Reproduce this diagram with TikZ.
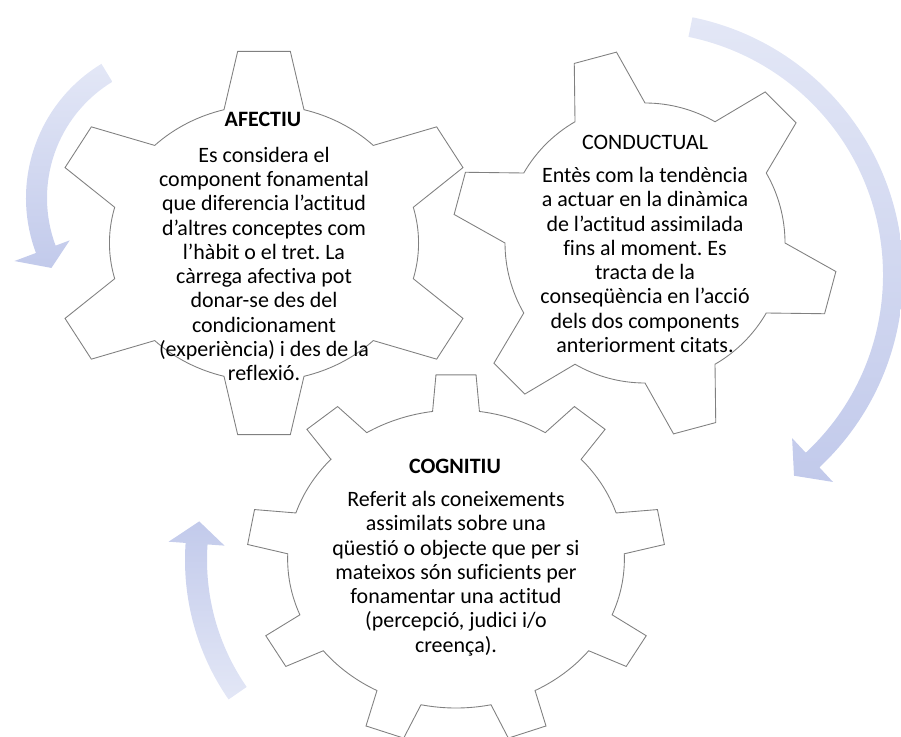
\documentclass[tikz,border=0pt]{standalone}
\usepackage{fontspec}
\setmainfont{Carlito}[Ligatures=NoCommon]
\usepackage{tikz}
\usetikzlibrary{calc}
\usepackage{xcolor}
\frenchspacing

\definecolor{arrowtail}{RGB}{227,231,246}
\definecolor{arrowhead}{RGB}{194,202,235}

\tikzset{
  gearline/.style={draw=black!50, fill=white, line width=0.5pt},
  geartitle/.style={font=\fontsize{12.5}{13.8}\selectfont, inner sep=0pt},
  geartext/.style={font=\fontsize{12.5}{13.8}\selectfont, align=center, inner sep=0pt},
}

\begin{document}
\begin{tikzpicture}[x=0.02cm, y=-0.02cm]
\useasboundingbox (0,0) rectangle (901,736);
\clip (0,0) rectangle (901,736);
% curved arrows round the gears
\coordinate (ca) at (183,198);
\coordinate (cb) at (640,275);
\coordinate (cc) at (430,560);
\shade [top color=arrowtail, bottom color=arrowhead, shift={(ca)}] (238.7:157) arc[start angle=238.7, end angle=159.5, radius=157] -- (159.5:180) -- (152:149) -- (159.5:121) -- (159.5:136) arc[start angle=159.5, end angle=238.7, radius=136] -- cycle;
\shade [top color=arrowtail, bottom color=arrowhead, shift={(cb)}] (-78.5:263) arc[start angle=-78.5, end angle=47, radius=263] -- (47:283) -- (52.5:253) -- (47:223) -- (47:243) arc[start angle=47, end angle=-78.5, radius=243] -- cycle;
\shade [top color=arrowhead, bottom color=arrowtail, shift={(cc)}] (145.3:245) arc[start angle=145.3, end angle=184, radius=245] -- (184:262) -- (189.5:234) -- (184:206) -- (184:223) arc[start angle=184, end angle=145.3, radius=223] -- cycle;
% gears
\coordinate (g1) at (264,243);
\coordinate (g2) at (645,243);
\coordinate (g3) at (456,559);
\filldraw [gearline, shift={(g1)}, xscale=1.12] (-105:138) \foreach \a in {-90,-30,...,210} {-- (\a-15:138) -- (\a-7:193) -- (\a+7:193) -- (\a+15:138) arc[start angle=\a+15, end angle=\a+45, radius=138]} -- cycle;
\filldraw [gearline, shift={(g2)}] (-120:140) \foreach \a in {-105,-45,...,195} {-- (\a-15:140) -- (\a-6.5:193) -- (\a+6.5:193) -- (\a+15:140) arc[start angle=\a+15, end angle=\a+45, radius=140]} -- cycle;
\filldraw [gearline, shift={(g3)}, xscale=1.13] (-98:149) \foreach \a in {-90,-50,...,230} {-- (\a-8:149) -- (\a-5.5:185) -- (\a+5.5:185) -- (\a+8:149) arc[start angle=\a+8, end angle=\a+32, radius=149]} -- cycle;
% texts
\node [geartitle, font=\fontsize{12.5}{13.8}\selectfont\bfseries] (afectiu) at ($(g1)+(-1,-124)$) {AFECTIU};
\node [geartext] (afectiutxt) at ($(g1)+(0,21)$) {Es considera el\\component fonamental\\que diferencia l’actitud\\d’altres conceptes com\\l’hàbit o el tret. La\\càrrega afectiva pot\\donar-se des del\\condicionament\\(experiència) i des de la\\reflexió.};
\node [geartitle] (conductual) at ($(g2)+(0,-101)$) {CONDUCTUAL};
\node [geartext] (conductualtxt) at ($(g2)+(0,17)$) {Entès com la tendència\\a actuar en la dinàmica\\de l’actitud assimilada\\fins al moment. Es\\tracta de la\\conseqüència en l’acció\\dels dos components\\anteriorment citats.};
\node [geartitle, font=\fontsize{12.5}{13.8}\selectfont\bfseries] (cognitiu) at ($(g3)+(-1,-93)$) {COGNITIU};
\node [geartext] (cognitiutxt) at ($(g3)+(0,14.5)$) {Referit als coneixements\\assimilats sobre una\\qüestió o objecte que per si\\mateixos són suficients per\\fonamentar una actitud\\(percepció, judici i/o\\creença).};
\end{tikzpicture}
\end{document}
